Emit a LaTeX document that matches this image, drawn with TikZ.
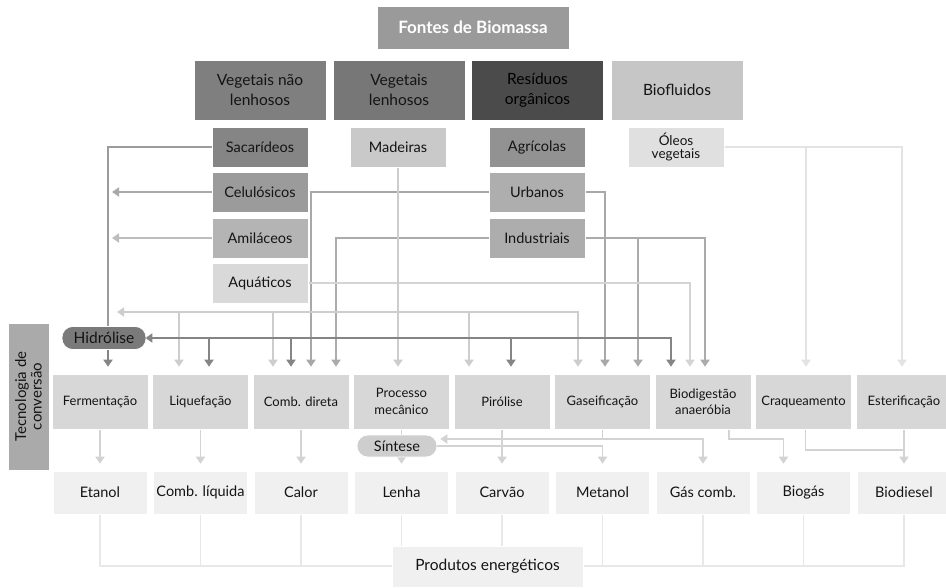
\documentclass[tikz,border=0pt]{standalone}
\usepackage{fontspec}
\setmainfont{Lato}
\usetikzlibrary{arrows.meta}
\pgfdeclarelayer{bg}
\pgfsetlayers{bg,main}

\definecolor{txt}{HTML}{141414}
\definecolor{fTitle}{HTML}{9A9A9A}
\definecolor{fVnl}{HTML}{7F7F7F}
\definecolor{fVl}{HTML}{777777}
\definecolor{fRes}{HTML}{4B4B4B}
\definecolor{fBio}{HTML}{C6C6C6}
\definecolor{fSac}{HTML}{858585}
\definecolor{fCel}{HTML}{9B9B9B}
\definecolor{fAmi}{HTML}{B4B4B4}
\definecolor{fAqu}{HTML}{D9D9D9}
\definecolor{fMad}{HTML}{C9C9C9}
\definecolor{fAgr}{HTML}{929292}
\definecolor{fUrb}{HTML}{AEAEAE}
\definecolor{fInd}{HTML}{ADADAD}
\definecolor{fOle}{HTML}{E0E0E0}
\definecolor{fTec}{HTML}{AAAAAA}
\definecolor{fHid}{HTML}{7A7A7A}
\definecolor{fConv}{HTML}{D7D7D7}
\definecolor{fProd}{HTML}{F0F0F0}
\definecolor{fSin}{HTML}{CECECE}
\definecolor{cSac}{HTML}{9C9C9C}
\definecolor{cCel}{HTML}{A9A9A9}
\definecolor{cAmi}{HTML}{BDBDBD}
\definecolor{cUrb}{HTML}{A8A8A8}
\definecolor{cInd}{HTML}{ABABAB}
\definecolor{cAqu}{HTML}{D4D4D4}
\definecolor{cLt}{HTML}{CDCDCD}
\definecolor{cDk}{HTML}{858585}
\definecolor{cOle}{HTML}{E3E3E3}
\definecolor{cPr}{HTML}{D3D3D3}
\definecolor{cBr}{HTML}{E8E8E8}

\begin{document}
\begin{tikzpicture}[x=1pt,y=-1pt,
  >={Triangle[width=9pt,length=7pt]},
  box/.style={rectangle, draw=white, line width=0.6pt, align=center, text=txt,
    inner sep=1pt, font=\fontsize{14.5}{18}\selectfont},
  srcbox/.style={box, minimum width=132pt, minimum height=60pt,
    font=\fontsize{15.5}{20}\selectfont},
  subbox/.style={box, minimum width=96pt, minimum height=40pt},
  convbox/.style={box, fill=fConv, minimum width=96pt, minimum height=55pt,
    font=\fontsize{13}{17}\selectfont},
  prodbox/.style={box, fill=fProd, minimum width=94pt, minimum height=43pt},
  pill/.style={box, rounded corners=11pt},
  ln/.style={line width=1.8pt},
  ar/.style={ln, ->, shorten >=7pt},
  lb/.style={line width=1.6pt, cBr}]

\useasboundingbox (0,0) rectangle (946,587);

% sources
\node[box, fill=fTitle, minimum width=192pt, minimum height=43pt, text=white,
  font=\bfseries\fontsize{17}{20}\selectfont] (fon) at (473,27.5) {Fontes de Biomassa};
\node[srcbox, fill=fVnl] (vnl) at (260,90) {Vegetais não\\lenhosos};
\node[srcbox, fill=fVl] (vl) at (399,90) {Vegetais\\lenhosos};
\node[srcbox, fill=fRes, text=black] (ro) at (537.5,90) {Resíduos\\orgânicos};
\node[srcbox, fill=fBio] (bf) at (677,90) {Biofluidos};

\node[subbox, fill=fSac] (sac) at (260,147) {Sacarídeos};
\node[subbox, fill=fCel] (cel) at (260,192) {Celulósicos};
\node[subbox, fill=fAmi] (ami) at (260,238) {Amiláceos};
\node[subbox, fill=fAqu] (aqu) at (260,283) {Aquáticos};
\node[subbox, fill=fMad] (mad) at (398,147) {Madeiras};
\node[subbox, fill=fAgr] (agr) at (537,147) {Agrícolas};
\node[subbox, fill=fUrb] (urb) at (537,192) {Urbanos};
\node[subbox, fill=fInd] (ind) at (537,238) {Industriais};
\node[subbox, fill=fOle, font=\fontsize{13.5}{13}\selectfont] (ole) at (676,147) {Óleos\\vegetais};

% conversion technologies
\node[box, fill=fTec, rotate=90, minimum width=147pt, minimum height=41pt,
  font=\fontsize{15}{15.5}\selectfont] (tec) at (28.5,396.5) {Tecnologia de\\conversão};
\node[pill, fill=fHid, minimum width=84pt, minimum height=23pt,
  font=\fontsize{15.5}{18}\selectfont] (hid) at (104,338) {Hidrólise};

\node[convbox] (fer) at (100,401.5) {Fermentação};
\node[convbox] (liq) at (200.5,401.5) {Liquefação};
\node[convbox] (cmb) at (301,401.5) {Comb. direta};
\node[convbox] (pm) at (401.5,401.5) {Processo\\mecânico};
\node[convbox] (pir) at (502,401.5) {Pirólise};
\node[convbox] (gas) at (602.5,401.5) {Gaseificação};
\node[convbox, font=\fontsize{13}{16}\selectfont] (bio) at (703,401.5) {Biodigestão\\anaeróbia};
\node[convbox] (cra) at (803.5,401.5) {Craqueamento};
\node[convbox] (est) at (904,401.5) {Esterificação};

\node[pill, fill=fSin, minimum width=80pt, minimum height=22pt] (sin) at (397,446) {Síntese};

% energy products
\node[prodbox] (eta) at (100,492.5) {Etanol};
\node[prodbox] (cli) at (200.5,492.5) {Comb. líquida};
\node[prodbox] (cal) at (301,492.5) {Calor};
\node[prodbox] (len) at (401.5,492.5) {Lenha};
\node[prodbox] (car) at (502,492.5) {Carvão};
\node[prodbox] (met) at (602.5,492.5) {Metanol};
\node[prodbox] (gc) at (703,492.5) {Gás comb.};
\node[prodbox] (bgs) at (803.5,492.5) {Biogás};
\node[prodbox] (bds) at (904,492.5) {Biodiesel};
\node[box, fill=fProd, minimum width=191pt, minimum height=41pt,
  font=\fontsize{15.5}{18}\selectfont] (pe) at (487.5,566.5) {Produtos energéticos};

% reference rows and entry points
\coordinate (hcol) at (108,0);
\coordinate (y312) at (0,312);
\coordinate (y439) at (0,439);
\coordinate (y450) at (0,450);
\coordinate (y566) at (0,566);
\coordinate (f1) at ([xshift=8pt]fer.north);
\coordinate (l1) at ([xshift=-21.5pt]liq.north);
\coordinate (l2) at ([xshift=8.5pt]liq.north);
\coordinate (c1) at ([xshift=-28pt]cmb.north);
\coordinate (c2) at ([xshift=-10pt]cmb.north);
\coordinate (c3) at ([xshift=10pt]cmb.north);
\coordinate (c4) at ([xshift=35pt]cmb.north);
\coordinate (p1) at ([xshift=-33pt]pir.north);
\coordinate (p2) at ([xshift=9pt]pir.north);
\coordinate (g1) at ([xshift=-24.5pt]gas.north);
\coordinate (g2) at ([xshift=2.5pt]gas.north);
\coordinate (g3) at ([xshift=35.5pt]gas.north);
\coordinate (b1) at ([xshift=-32pt]bio.north);
\coordinate (b2) at ([xshift=-13pt]bio.north);
\coordinate (b3) at ([xshift=2pt]bio.north);
\coordinate (k1) at ([xshift=2.5pt]cra.north);
\coordinate (e1) at ([xshift=-2pt]est.north);
\coordinate (s1) at ([xshift=3pt]sin.east);
\coordinate (bdo) at ([xshift=26pt]bio.south);
\coordinate (bgn) at ([xshift=-20pt]bgs.north);
\coordinate (cro) at ([xshift=2pt]cra.south);

\begin{pgfonlayer}{bg}
% feedstocks to conversion
\draw[ln, cSac] (sac.west) -| (hcol |- hid.north);
\draw[ar, cDk] (hcol |- hid.south) -- (f1);
\draw[ar, cCel, shorten >=4pt] (cel.west) -- (hcol |- cel.west);
\draw[ar, cAmi, shorten >=4pt] (ami.west) -- (hcol |- ami.west);
\draw[ar, cUrb] (urb.west) -| (c3);
\draw[ar, cUrb] (urb.east) -| (g2);
\draw[ar, cInd] (ind.west) -| (c4);
\draw[ar, cInd] (ind.east) -| (b3);
\draw[ar, cInd] (g3 |- ind.east) -- (g3);
\draw[ar, cAqu] (aqu.east) -| (b2);
\draw[ar, cLt] (mad.south) -- (mad.south |- pir.north);
\draw[ar, cLt, <->, shorten <=9pt] (hcol |- y312) -| (g1);
\foreach \p in {l1,c1,p1} \draw[ar, cLt] (\p |- y312) -- (\p);
\draw[ar, cDk, <->, shorten <=-1pt] (hid.east) -| (b1);
\foreach \p in {l2,c2,p2} \draw[ar, cDk] (\p |- hid.east) -- (\p);
\draw[ar, cOle] (ole.east) -| (e1);
\draw[ar, cOle] (k1 |- ole.east) -- (k1);

% conversion to products
\foreach \a/\b in {fer/eta, liq/cli, cmb/cal, pm/len, pir/car}
  \draw[ar, cPr] (\a.south) -- (\b.north);
\draw[ln, cPr] (gas.south) -- (gas.south |- y439);
\draw[ar, cPr, shorten >=0pt] (gas.south |- y439) -- (s1 |- y439);
\draw[ar, cPr] (gas.south |- y439) -| (gc.north);
\draw[ar, cPr] (sin.east) -| (met.north);
\draw[ar, cPr] (bdo) |- (bgn |- y439) -- (bgn);
\draw[ln, cPr] (cro) |- (bds.north |- y450);
\draw[ar, cPr] (est.south) -- (bds.north);

% products gathered into the energy products box
\draw[lb] (eta.south) |- (pe.west |- y566);
\foreach \n in {cli, cal, met, gc, bgs} \draw[lb] (\n.south) -- (\n.south |- y566);
\foreach \n in {len, car} \draw[lb] (\n.south) -- (\n.south |- pe.north);
\draw[lb] (bds.south) |- (pe.east |- y566);
\end{pgfonlayer}
\end{tikzpicture}
\end{document}
